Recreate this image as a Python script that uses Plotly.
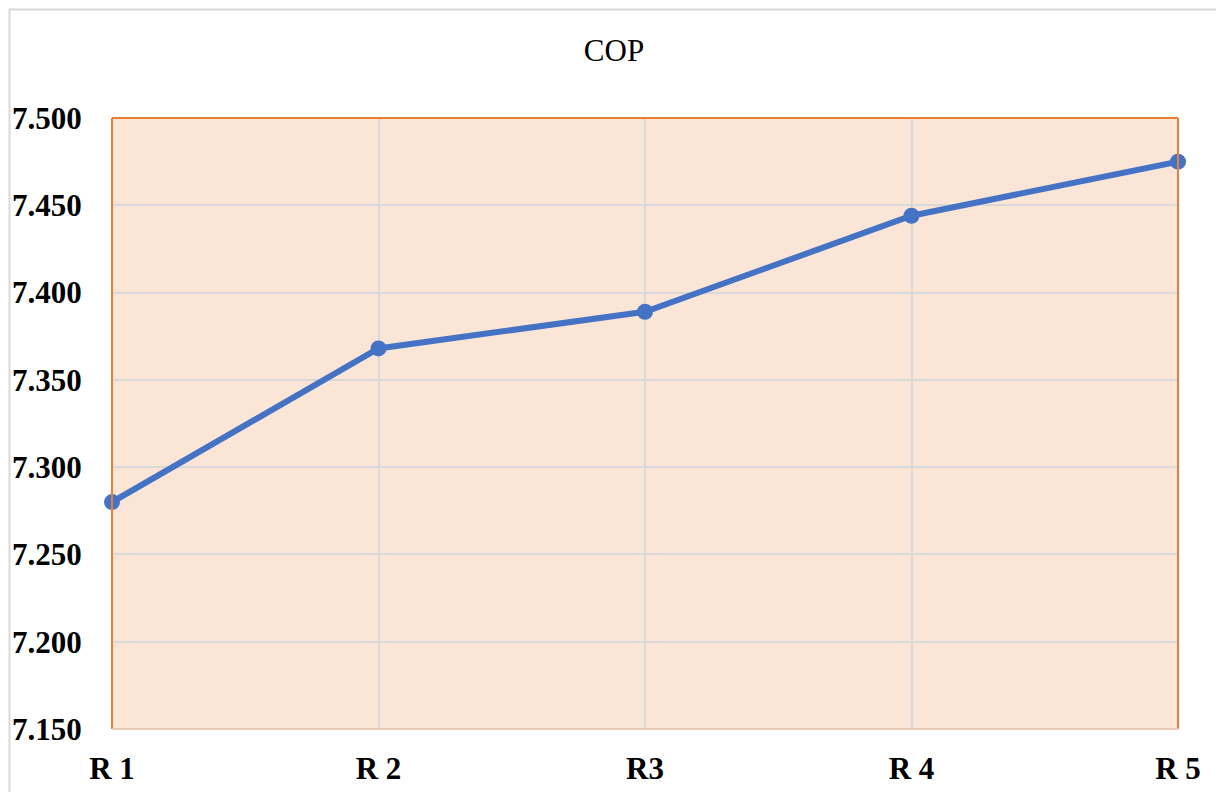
import plotly.graph_objects as go

categories = ["R 1", "R 2", "R3", "R 4", "R 5"]
cop_values = [7.280, 7.368, 7.389, 7.444, 7.475]
y_ticks = [7.150, 7.200, 7.250, 7.300, 7.350, 7.400, 7.450, 7.500]
y_tick_labels = ["7.150", "7.200", "7.250", "7.300", "7.350", "7.400", "7.450", "7.500"]

# page renders with an 8px body offset; work in figure coordinates
OFF = 8
W, H = 1224 - OFF, 792 - OFF
L, T = 112 - OFF, 118 - OFF
R = W - (1178 - OFF)
B = H - (729 - OFF)
pw, ph = W - L - R, H - T - B

def px_x(p):
    return (p - OFF - L) / pw

def px_y(p):
    return (H - B - (p - OFF)) / ph

fig = go.Figure()
fig.add_trace(go.Scatter(
    x=categories, y=cop_values, mode="lines+markers",
    line=dict(color="#4472C4", width=6),
    marker=dict(color="#4472C4", size=16),
    cliponaxis=False, showlegend=False,
))

font_serif = "Liberation Serif, Times New Roman, serif"

fig.update_layout(
    width=W, height=H,
    margin=dict(l=L, r=R, t=T, b=B, autoexpand=False),
    paper_bgcolor="white",
    plot_bgcolor="#FAE5D7",
    title=dict(text="COP", x=(614 - OFF) / W, xanchor="center",
               y=1 - (50 - OFF) / H, yanchor="middle",
               font=dict(family=font_serif, size=31, color="black")),
    xaxis=dict(
        type="category", range=[0, 4], automargin=False,
        showgrid=True, gridcolor="#D9D9D9", gridwidth=1.5,
        showline=False, zeroline=False,
        ticks="outside", ticklen=12, tickcolor="rgba(0,0,0,0)",
        tickfont=dict(family=font_serif, size=31, color="black", weight="bold"),
    ),
    yaxis=dict(
        range=[7.150, 7.500], automargin=False,
        tickvals=y_ticks, ticktext=y_tick_labels,
        showgrid=True, gridcolor="#D9D9D9", gridwidth=1.5,
        showline=False, zeroline=False,
        ticks="outside", ticklen=23, tickcolor="rgba(0,0,0,0)",
        tickfont=dict(family=font_serif, size=31, color="black", weight="bold"),
    ),
    shapes=[
        dict(type="line", xref="paper", yref="paper", x0=0, x1=0, y0=0, y1=1,
             line=dict(color="#ED7D31", width=2)),
        dict(type="line", xref="paper", yref="paper", x0=0, x1=1, y0=1, y1=1,
             line=dict(color="#ED7D31", width=2)),
        dict(type="line", xref="paper", yref="paper", x0=1, x1=1, y0=0, y1=1,
             line=dict(color="#ED7D31", width=2)),
        dict(type="line", xref="paper", yref="paper", x0=0, x1=1, y0=0, y1=0,
             line=dict(color="#EBC9B4", width=2)),
        dict(type="rect", xref="paper", yref="paper",
             x0=px_x(9.5), x1=px_x(1217.5), y0=px_y(820), y1=px_y(9.5),
             line=dict(color="#D9D9D9", width=2), fillcolor="rgba(0,0,0,0)", layer="below"),
    ],
)

fig.write_html("out.html")
